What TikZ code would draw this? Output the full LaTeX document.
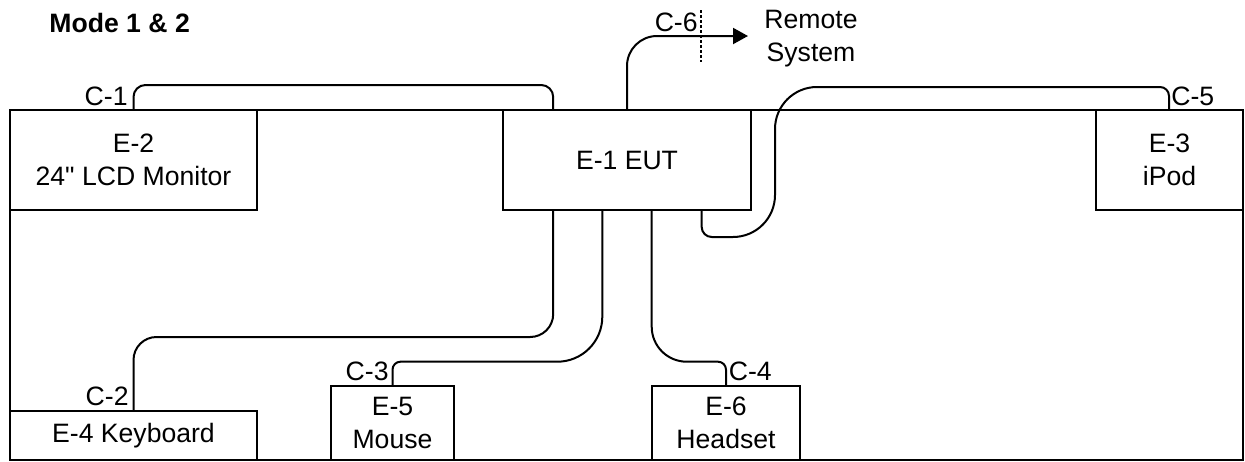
\documentclass[tikz,border=0pt]{standalone}
\usepackage{fontspec}
\setmainfont{Liberation Sans}[Ligatures=TeXOff]
\usetikzlibrary{arrows.meta}

\tikzset{
  box/.style={draw, line width=1pt, align=center, inner sep=0pt, font=\fontsize{13.3}{16.5}\selectfont},
  cable/.style={line width=1pt},
  cutline/.style={line width=1pt, dash pattern=on 1.5pt off 1pt},
  lbl/.style={inner sep=0pt, font=\fontsize{13.3}{16.5}\selectfont},
}

\begin{document}
\begin{tikzpicture}[x=0.5pt, y=-0.5pt]
\useasboundingbox (0,0) rectangle (1245,461);
\node[lbl, font=\fontsize{13.3}{16.5}\selectfont\bfseries, anchor=base west] (mode) at (49,32.7) {Mode 1 \& 2};
% outer frame
\draw[line width=1pt] (10,110) rectangle (1243,460);
% equipment
\node[box, minimum width=124pt,  minimum height=50pt]   (e1) at (627,160)    {E-1 EUT};
\node[box, minimum width=123.5pt, minimum height=50pt]  (e2) at (133.5,160)  {E-2\\24" LCD Monitor};
\node[box, minimum width=73.5pt, minimum height=50pt]   (e3) at (1169.5,160) {E-3\\iPod};
\node[box, minimum width=123.5pt, minimum height=24.5pt] (e4) at (133.5,435.5) {E-4 Keyboard};
\node[box, minimum width=61.5pt, minimum height=37pt]   (e5) at (392.5,423)  {E-5\\Mouse};
\node[box, minimum width=74pt,   minimum height=37pt]   (e6) at (726,423)    {E-6\\Headset};
\node[lbl, align=center, anchor=north] (remote) at (811,10) {Remote\\System};
\coordinate (remoteend) at (748,36);
% cables
\draw[cable, rounded corners=6pt] (e2.north) -- ++(0,-24) -| ([xshift=-36.9pt]e1.north);
\draw[cable, rounded corners=11.5pt] ([xshift=-36.9pt]e1.south) -- ++(0,126) -| (e4.north);
\draw[cable] ([xshift=-12.35pt]e1.south) -- ++(0,105.7) arc[start angle=0, end angle=90, radius=45]
  -- ++(-156.8,0) arc[start angle=270, end angle=180, radius=8] -- (e5.north);
\draw[cable] ([xshift=12.35pt]e1.south) -- ++(0,115.7) arc[start angle=180, end angle=90, radius=35]
  -- ++(31.3,0) arc[start angle=270, end angle=360, radius=8] -- (e6.north);
\draw[cable] ([xshift=37.35pt]e1.south) -- ++(0,16) arc[start angle=180, end angle=90, radius=10]
  -- ++(21.3,0) arc[start angle=90, end angle=0, radius=42]
  -- ++(0,-66) arc[start angle=180, end angle=270, radius=42]
  -- ++(343,0) arc[start angle=270, end angle=360, radius=9] -- ([xshift=-0.25pt]e3.north);
\draw[cable, rounded corners=15pt, -{Triangle[length=7.5pt, width=8pt]}] (e1.north) |- (remoteend);
\draw[cutline] (700.5,10) -- (700.5,62);
% cable labels
\node[lbl, anchor=base east] (c1) at ([xshift=-2.75pt, yshift=2pt]e2.north) {C-1};
\node[lbl, anchor=base east] (c2) at ([xshift=-2.25pt, yshift=2.15pt]e4.north) {C-2};
\node[lbl, anchor=base east] (c3) at ([xshift=-1.75pt, yshift=2.15pt]e5.north) {C-3};
\node[lbl, anchor=base west] (c4) at ([xshift=1.25pt, yshift=2.15pt]e6.north) {C-4};
\node[lbl, anchor=base west] (c5) at ([xshift=0.75pt, yshift=2pt]e3.north) {C-5};
\node[lbl, anchor=base east] (c6) at (698,31.7) {C-6};
\end{tikzpicture}
\end{document}
